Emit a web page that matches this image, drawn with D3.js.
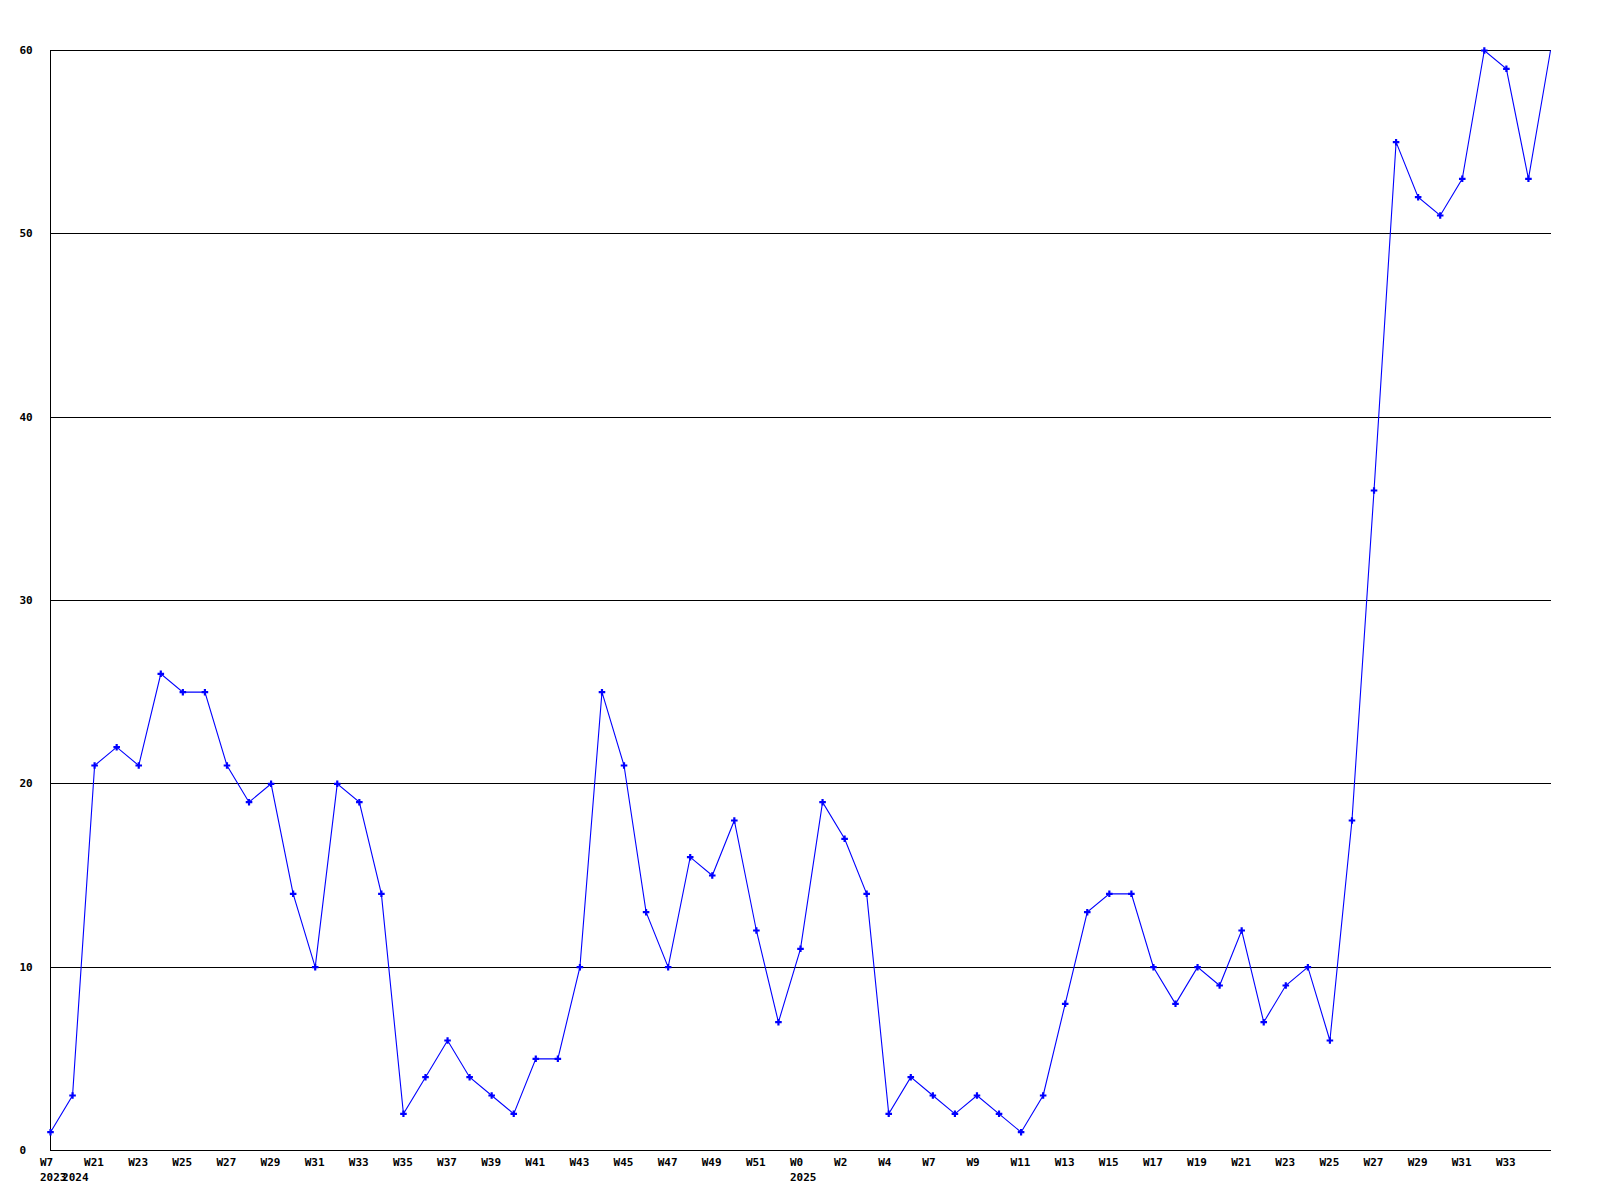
<!DOCTYPE html>
<html>
<head>
<meta charset="utf-8">
<script src="https://cdn.jsdelivr.net/npm/d3@7"></script>
<style>
  html, body { margin: 0; padding: 0; background: #fff; }
  text { font-family: "DejaVu Sans Mono", monospace; font-weight: bold; font-size: 11px; fill: #000; }
</style>
</head>
<body>
<svg id="chart" width="1600" height="1200"></svg>
<script>
const weeks = ["W7","W20","W21","W22","W23","W24","W25","W26","W27","W28","W29","W30","W31","W32","W33","W34",
  "W35","W36","W37","W38","W39","W40","W41","W42","W43","W44","W45","W46","W47","W48","W49","W50","W51","W52",
  "W0","W1","W2","W3","W4","W6","W7","W8","W9","W10","W11","W12","W13","W14","W15","W16","W17","W18","W19","W20",
  "W21","W22","W23","W24","W25","W26","W27","W28","W29","W30","W31","W32","W33","W34","W35"];
const values = [1,3,21,22,21,26,25,25,21,19,20,14,10,20,19,14,
  2,4,6,4,3,2,5,5,10,25,21,13,10,16,15,18,12,7,
  11,19,17,14,2,4,3,2,3,2,1,3,8,13,14,14,10,8,10,9,
  12,7,9,10,6,18,36,55,52,51,53,60,59,53,60];
const yearLabels = ["2023","2024","2025"];
const yearIndex = [0, 1, 34];
const yTicks = [0,10,20,30,40,50,60];

const svg = d3.select("#chart");
const mLeft = 50, mRight = 1550, mTop = 50, mBottom = 1150;
const x = d3.scaleLinear().domain([0, values.length - 1]).range([mLeft, mRight]);
const y = d3.scaleLinear().domain([0, 60]).range([mBottom, mTop]);

// gridlines
svg.append("g").selectAll("line").data(yTicks.filter(t => t > 0)).join("line")
  .attr("x1", mLeft).attr("x2", mRight + 0.5)
  .attr("y1", d => Math.round(y(d)) + 0.5).attr("y2", d => Math.round(y(d)) + 0.5)
  .attr("stroke", "#000").attr("stroke-width", 1).attr("shape-rendering", "crispEdges");

// axes lines
svg.append("line").attr("x1", mLeft + 0.5).attr("x2", mLeft + 0.5).attr("y1", mTop).attr("y2", mBottom + 0.5)
  .attr("stroke", "#000").attr("shape-rendering", "crispEdges");
svg.append("line").attr("x1", mLeft).attr("x2", mRight + 0.5).attr("y1", mBottom + 0.5).attr("y2", mBottom + 0.5)
  .attr("stroke", "#000").attr("shape-rendering", "crispEdges");

// y labels
svg.append("g").selectAll("text").data(yTicks).join("text")
  .attr("x", 19.5).attr("y", d => y(d) + 4).text(d => d);

// x labels (every second week, last point unlabeled)
svg.append("g").selectAll("text")
  .data(weeks.map((w, i) => ({w, i})).filter(d => d.i % 2 === 0 && d.i < weeks.length - 1)).join("text")
  .attr("x", d => x(d.i) - 10).attr("y", 1166).text(d => d.w);

// year labels
svg.append("g").selectAll("text").data(yearLabels.map((t, k) => ({t, i: yearIndex[k]}))).join("text")
  .attr("x", d => x(d.i) - 10).attr("y", 1181).text(d => d.t);

// line
const line = d3.line().x((d, i) => x(i) + 0.5).y(d => y(d) + 0.5);
svg.append("path").datum(values).attr("d", line)
  .attr("fill", "none").attr("stroke", "#0000ff").attr("stroke-width", 1.1);

// markers (last point has none)
const sym = d3.symbol().type(d3.symbolCross).size(24);
svg.append("g").selectAll("path").data(values.slice(0, values.length - 1)).join("path")
  .attr("transform", (d, i) => `translate(${x(i) + 0.5},${y(d) + 0.5})`)
  .attr("d", sym).attr("fill", "#0000ff");
</script>
</body>
</html>
